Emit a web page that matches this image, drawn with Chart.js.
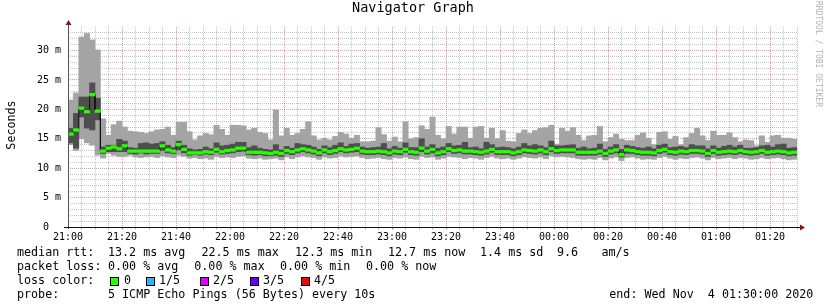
<!DOCTYPE html>
<html>
<head>
<meta charset="utf-8">
<title>Navigator Graph</title>
<script src="https://cdn.jsdelivr.net/npm/chart.js@4"></script>
<style>
  body { margin: 0; background: #fff; }
  canvas { display: block; }
</style>
</head>
<body>
<canvas id="grafico" width="824" height="308"></canvas>
<script>
// Etiquetas de los ejes
const etiquetasHora = ['21:00', '21:20', '21:40', '22:00', '22:20', '22:40', '23:00', '23:20',
                       '23:40', '00:00', '00:20', '00:40', '01:00', '01:20'];
const etiquetasY = ['0  ', '5 m', '10 m', '15 m', '20 m', '25 m', '30 m'];

// Valores en ms por intervalo de 2 minutos (5 pings ordenados: min, bajo, mediana, alto, max)
const pingMax = [
  21.6, 22.8, 32.3, 32.9, 31.8, 30.1, 18.4, 15.6, 17.4, 18.0, 17.0, 16.3, 16.2, 16.1, 15.9,
  16.2, 16.5, 16.6, 17.0, 15.6, 17.8, 17.8, 16.2, 14.8, 15.5, 15.9, 15.7, 17.3, 16.6, 15.6,
  17.3, 17.3, 17.2, 16.5, 16.8, 16.1, 15.9, 14.8, 19.9, 15.5, 16.8, 15.6, 15.9, 16.6, 17.9,
  15.5, 14.8, 15.1, 14.8, 15.4, 16.1, 15.8, 15.1, 15.6, 14.5, 14.5, 14.6, 16.9, 15.7, 14.6,
  15.3, 14.5, 17.9, 15.0, 15.2, 17.2, 16.6, 18.7, 15.6, 15.0, 17.1, 15.8, 17.0, 17.0, 15.1,
  17.0, 17.1, 15.1, 16.8, 15.0, 16.4, 14.6, 14.5, 15.9, 16.5, 15.9, 16.4, 16.8, 16.9, 17.3,
  14.1, 16.8, 16.3, 16.9, 15.6, 14.7, 15.5, 15.6, 17.1, 14.5, 15.2, 15.8, 14.9, 14.7, 14.7,
  15.6, 16.0, 15.1, 14.0, 16.1, 16.2, 14.9, 15.4, 14.0, 15.2, 15.9, 16.8, 15.5, 14.7, 16.3,
  15.6, 15.6, 16.0, 15.2, 14.5, 14.8, 14.7, 13.8, 15.5, 14.4, 15.5, 15.6, 15.1, 15.1, 14.9
];
const pingAlto = [
  16.8, 19.3, 22.1, 22.1, 24.5, 21.9, 13.6, 13.9, 13.9, 14.9, 14.6, 13.5, 13.4, 14.2, 14.3,
  14.1, 14.2, 14.5, 13.9, 13.5, 14.6, 13.9, 13.3, 13.1, 13.2, 13.6, 13.3, 14.3, 13.8, 13.9,
  14.1, 14.4, 14.4, 13.5, 13.8, 13.4, 13.2, 13.1, 14.0, 13.1, 13.7, 13.4, 14.2, 14.0, 13.9,
  13.6, 13.2, 13.8, 13.5, 13.9, 14.3, 13.7, 14.1, 14.2, 13.6, 13.4, 13.5, 13.6, 14.2, 13.3,
  13.7, 13.4, 14.3, 13.5, 13.5, 15.0, 13.6, 14.0, 13.4, 13.6, 14.2, 13.8, 13.9, 14.4, 13.5,
  13.6, 13.3, 14.4, 14.0, 13.5, 13.6, 13.5, 13.3, 13.6, 14.2, 13.8, 14.0, 13.8, 13.5, 14.6,
  13.8, 13.8, 13.9, 14.0, 13.4, 13.6, 13.3, 13.4, 14.1, 13.2, 13.6, 14.0, 13.2, 13.9, 13.7,
  13.5, 13.4, 13.6, 13.3, 13.9, 14.1, 13.5, 13.6, 13.7, 13.5, 14.0, 13.8, 13.8, 13.3, 13.8,
  13.4, 13.7, 13.9, 13.6, 13.9, 13.4, 13.4, 13.5, 13.8, 13.9, 13.6, 14.0, 14.1, 13.4, 13.5
];
const mediana = [
  15.8, 16.5, 20.2, 19.6, 22.5, 19.7, 12.9, 13.4, 13.6, 13.3, 13.8, 12.9, 12.9, 12.9, 12.9,
  12.9, 12.9, 13.8, 13.1, 12.9, 14.0, 13.2, 12.6, 12.6, 12.6, 12.8, 12.7, 13.2, 12.8, 13.0,
  13.1, 13.4, 13.4, 12.7, 12.7, 12.7, 12.6, 12.5, 12.7, 12.5, 13.0, 12.8, 13.1, 13.3, 13.1,
  12.9, 12.6, 13.1, 12.8, 13.0, 13.3, 13.1, 13.2, 13.4, 12.9, 12.8, 12.8, 12.9, 12.8, 12.6,
  12.9, 12.8, 13.2, 12.8, 12.7, 13.4, 12.9, 13.2, 12.6, 12.8, 13.3, 13.0, 13.1, 12.9, 12.9,
  12.8, 12.7, 12.9, 13.2, 12.8, 12.8, 12.8, 12.6, 12.8, 13.1, 13.0, 12.9, 13.1, 12.8, 13.3,
  13.0, 13.1, 13.1, 13.1, 12.7, 12.7, 12.7, 12.7, 12.9, 12.5, 12.9, 13.1, 12.3, 13.1, 13.0,
  12.8, 12.7, 12.7, 12.6, 13.0, 13.2, 12.8, 12.7, 12.9, 12.8, 13.0, 13.0, 12.9, 12.5, 13.0,
  12.7, 12.8, 12.9, 12.8, 13.0, 12.8, 12.7, 12.8, 13.0, 12.7, 12.8, 12.9, 12.8, 12.6, 12.7
];
const pingBajo = [
  14.3, 13.4, 18.7, 16.8, 16.5, 18.2, 12.5, 12.8, 12.8, 12.8, 12.8, 12.5, 12.4, 12.6, 12.4,
  12.5, 12.5, 13.0, 12.6, 12.5, 13.1, 12.6, 12.2, 12.3, 12.2, 12.4, 12.3, 12.7, 12.4, 12.5,
  12.6, 12.8, 12.9, 12.3, 12.2, 12.3, 12.1, 12.1, 12.2, 12.0, 12.5, 12.3, 12.6, 12.8, 12.6,
  12.4, 12.1, 12.6, 12.3, 12.5, 12.8, 12.6, 12.7, 12.8, 12.4, 12.3, 12.3, 12.4, 12.3, 12.1,
  12.4, 12.3, 12.7, 12.3, 12.2, 12.8, 12.4, 12.6, 12.1, 12.3, 12.8, 12.5, 12.6, 12.4, 12.4,
  12.3, 12.2, 12.4, 12.7, 12.3, 12.3, 12.3, 12.1, 12.3, 12.6, 12.5, 12.4, 12.6, 12.3, 12.8,
  12.5, 12.6, 12.6, 12.6, 12.2, 12.2, 12.2, 12.2, 12.4, 12.0, 12.4, 12.6, 11.9, 12.5, 12.5,
  12.3, 12.2, 12.2, 12.1, 12.5, 12.7, 12.3, 12.2, 12.4, 12.3, 12.5, 12.5, 12.4, 12.0, 12.5,
  12.2, 12.3, 12.4, 12.3, 12.5, 12.3, 12.2, 12.3, 12.5, 12.2, 12.3, 12.4, 12.3, 12.1, 12.2
];
const pingMin = [
  14.0, 13.0, 15.0, 14.3, 13.9, 12.2, 11.7, 12.5, 12.2, 12.0, 12.0, 12.2, 11.9, 11.8, 11.9,
  12.0, 11.8, 12.1, 11.9, 11.8, 12.2, 12.0, 11.7, 11.8, 11.6, 11.7, 11.5, 12.0, 11.8, 11.9,
  11.8, 12.0, 12.1, 11.7, 11.6, 11.7, 11.5, 11.6, 11.7, 11.4, 11.9, 11.6, 11.9, 12.1, 11.9,
  11.8, 11.5, 11.9, 11.7, 11.8, 12.1, 11.9, 12.0, 12.1, 11.8, 11.6, 11.7, 11.8, 11.6, 11.5,
  11.8, 11.7, 11.9, 11.6, 11.5, 12.0, 11.8, 11.9, 11.5, 11.7, 12.0, 11.9, 11.8, 11.6, 11.8,
  11.7, 11.5, 11.8, 12.0, 11.7, 11.6, 11.7, 11.5, 11.7, 11.9, 11.8, 11.7, 11.9, 11.6, 12.1,
  11.9, 12.0, 11.9, 11.8, 11.6, 11.5, 11.6, 11.5, 11.8, 11.4, 11.7, 11.9, 11.3, 11.8, 11.9,
  11.7, 11.5, 11.6, 11.5, 11.8, 12.0, 11.7, 11.5, 11.7, 11.6, 11.8, 11.9, 11.7, 11.4, 11.8,
  11.6, 11.7, 11.8, 11.6, 11.8, 11.7, 11.5, 11.6, 11.8, 11.6, 11.7, 11.8, 11.6, 11.4, 11.5
];

const MIN_POR_BIN = 2;      // cada columna son 2 minutos
const FUENTE = "'DejaVu Sans Mono', monospace";
const ROJO_GRID = 'rgba(205,50,50,0.5)';
const GRIS_GRID = 'rgba(125,125,125,0.45)';

// Construir los datos de cada capa del "humo"
const centro = i => i * MIN_POR_BIN + MIN_POR_BIN / 2;
const humoExterior = pingMin.map((v, i) => ({ x: centro(i), y: [v, pingMax[i]] }));
const humoInterior = pingBajo.map((v, i) => ({ x: centro(i), y: [v, pingAlto[i]] }));
const bandaVerde = mediana.map((v, i) => ({ x: centro(i), y: [v - 0.22, v + 0.22] }));
const lineaMediana = [];
mediana.forEach((v, i) => {
    lineaMediana.push({ x: i * MIN_POR_BIN, y: v }, { x: (i + 1) * MIN_POR_BIN, y: v });
});

function capaBarras(datos, color, orden) {
    return {
        type: 'bar',
        data: datos,
        backgroundColor: color,
        borderWidth: 0,
        grouped: false,
        barPercentage: 1,
        categoryPercentage: 1,
        order: orden
    };
}

// Textos, ejes y flechas al estilo rrdtool
const textosRrd = {
    id: 'textosRrd',
    afterDraw(chart) {
        const ctx = chart.ctx;
        const a = chart.chartArea;
        ctx.save();

        // ejes
        ctx.lineWidth = 1;
        ctx.strokeStyle = '#555';
        ctx.beginPath();
        ctx.moveTo(a.left + 0.5, a.bottom + 2);
        ctx.lineTo(a.left + 0.5, a.top - 3);
        ctx.stroke();
        ctx.strokeStyle = '#111';
        ctx.beginPath();
        ctx.moveTo(a.left - 4, a.bottom + 0.5);
        ctx.lineTo(a.right + 4, a.bottom + 0.5);
        ctx.stroke();

        // flechas
        ctx.fillStyle = '#8b1414';
        ctx.beginPath();
        ctx.moveTo(a.left + 0.5, a.top - 7);
        ctx.lineTo(a.left - 2.5, a.top - 2);
        ctx.lineTo(a.left + 3.5, a.top - 2);
        ctx.closePath();
        ctx.fill();
        ctx.beginPath();
        ctx.moveTo(a.right + 8, a.bottom + 0.5);
        ctx.lineTo(a.right + 3, a.bottom - 2.5);
        ctx.lineTo(a.right + 3, a.bottom + 3.5);
        ctx.closePath();
        ctx.fill();

        ctx.fillStyle = '#000';
        ctx.textBaseline = 'middle';

        // titulo
        ctx.font = '13.5px ' + FUENTE;
        ctx.textAlign = 'center';
        ctx.fillText('Navigator Graph', 413, 8);

        // etiqueta eje Y
        ctx.font = '11.7px ' + FUENTE;
        ctx.save();
        ctx.translate(12, 125);
        ctx.rotate(-Math.PI / 2);
        ctx.fillText('Seconds', 0, 0);
        ctx.restore();

        // leyenda inferior
        ctx.textAlign = 'left';
        const fila = (y, partes) => partes.forEach(p => ctx.fillText(p[1], p[0], y));
        fila(253, [[17, 'median rtt:'], [108, '13.2 ms avg'], [201.5, '22.5 ms max'],
                   [295, '12.3 ms min'], [388, '12.7 ms now'], [480, '1.4 ms sd'],
                   [557, '9.6'], [601.5, 'am/s']]);
        fila(267, [[17, 'packet loss:'], [108, '0.00 % avg'], [194.3, '0.00 % max'],
                   [280, '0.00 % min'], [366, '0.00 % now']]);
        fila(281, [[17, 'loss color:']]);
        const colores = [['#26ff00', 110, 124, '0'], ['#2db4f5', 146, 159, '1/5'],
                         ['#dd00ff', 200, 213, '2/5'], ['#6a00ff', 250, 263, '3/5'],
                         ['#ff0000', 301, 314, '4/5']];
        colores.forEach(c => {
            ctx.fillStyle = c[0];
            ctx.fillRect(c[1] + 0.5, 277.5, 8, 8);
            ctx.strokeStyle = '#000';
            ctx.strokeRect(c[1] + 0.5, 277.5, 8, 8);
            ctx.fillStyle = '#000';
            ctx.fillText(c[3], c[2], 281);
        });
        fila(295, [[17, 'probe:'], [108, '5 ICMP Echo Pings (56 Bytes) every 10s'],
                   [609.3, 'end: Wed Nov  4 01:30:00 2020']]);

        // marca de agua vertical
        ctx.fillStyle = '#b4b4b4';
        ctx.font = '8px ' + FUENTE;
        ctx.save();
        ctx.translate(818, 1);
        ctx.rotate(Math.PI / 2);
        ctx.textBaseline = 'middle';
        ctx.fillText('RRDTOOL / TOBI OETIKER', 0, 0);
        ctx.restore();

        ctx.restore();
    }
};

new Chart(document.getElementById('grafico').getContext('2d'), {
    data: {
        datasets: [
            capaBarras(humoExterior, '#a4a4a4', 4),
            capaBarras(humoInterior, '#4e4e4e', 3),
            {
                type: 'line',
                data: lineaMediana,
                borderColor: '#111',
                borderWidth: 1,
                pointRadius: 0,
                fill: false,
                tension: 0,
                order: 2
            },
            capaBarras(bandaVerde, '#26ff00', 1)
        ]
    },
    options: {
        responsive: false,
        animation: false,
        devicePixelRatio: 1,
        layout: { padding: { left: 0, top: 27, right: 27, bottom: 0 } },
        plugins: { legend: { display: false }, tooltip: { enabled: false }, title: { display: false } },
        scales: {
            x: {
                type: 'linear',
                min: 0,
                max: 270,
                offset: false,
                z: 1,
                afterFit: s => { s.height = 81; },
                grid: {
                    offset: false,
                    color: c => (c.tick && c.tick.value % 20 === 0) ? ROJO_GRID : GRIS_GRID,
                    tickColor: c => (c.tick && c.tick.value % 20 === 0) ? '#b44' : '#999',
                    tickLength: 2
                },
                border: { display: false, dash: [1, 1] },
                ticks: {
                    stepSize: 5,
                    autoSkip: false,
                    includeBounds: false,
                    maxTicksLimit: 1000,
                    maxRotation: 0,
                    padding: 2,
                    color: '#000',
                    font: { family: FUENTE, size: 10 },
                    callback: v => (v % 20 === 0 && v < 270) ? etiquetasHora[v / 20] : ''
                }
            },
            y: {
                min: 0,
                max: 34,
                z: 1,
                afterFit: s => { s.width = 68; },
                grid: {
                    color: c => {
                        if (!c.tick || c.tick.value >= 34) return 'rgba(0,0,0,0)';
                        return c.tick.value % 5 === 0 ? ROJO_GRID : GRIS_GRID;
                    },
                    drawTicks: false
                },
                border: { display: false, dash: [1, 1] },
                ticks: {
                    stepSize: 1,
                    autoSkip: false,
                    includeBounds: false,
                    maxTicksLimit: 100,
                    padding: 7,
                    color: '#000',
                    font: { family: FUENTE, size: 10 },
                    callback: v => (v % 5 === 0) ? etiquetasY[v / 5] : ''
                }
            }
        }
    },
    plugins: [textosRrd]
});
</script>
</body>
</html>
